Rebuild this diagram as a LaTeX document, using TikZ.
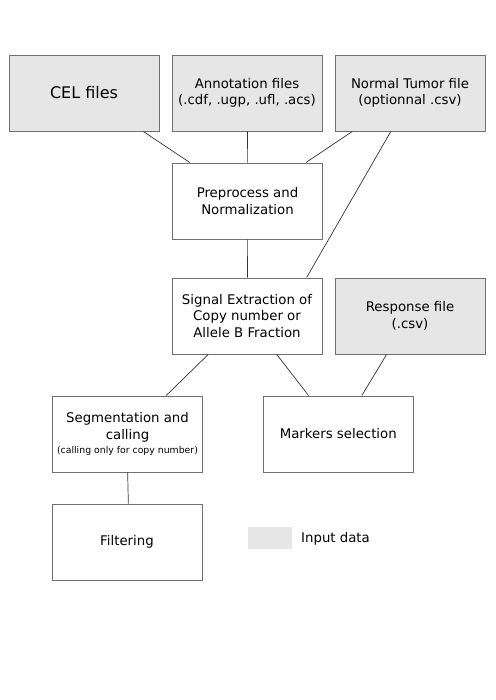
\documentclass[tikz,border=0pt]{standalone}
\usepackage{fontspec}
\setmainfont{DejaVu Sans}
\usetikzlibrary{calc}
\definecolor{inputgray}{HTML}{E6E6E6}
\definecolor{boxline}{HTML}{707070}
\definecolor{linkline}{HTML}{333333}
\tikzset{
  box/.style={draw=boxline, line width=0.9pt, minimum width=150pt, minimum height=76pt,
    inner sep=0pt, align=center, font=\fontsize{13.3}{16.5}\selectfont},
  inputbox/.style={box, fill=inputgray},
  link/.style={draw=linkline, line width=0.7pt},
}
% point at fraction #2 along the bottom / top edge of node #1
\newcommand{\edgebot}[2]{($(#1.south west)!#2!(#1.south east)$)}
\newcommand{\edgetop}[2]{($(#1.north west)!#2!(#1.north east)$)}
\begin{document}
\begin{tikzpicture}[x=1pt, y=-1pt]
  \useasboundingbox[fill=white] (0,0) rectangle (495,700);

  % input files
  \node[inputbox, font=\fontsize{16}{19}\selectfont] (cel) at (84,93) {CEL files};
  \node[inputbox] (annot) at (247,93) {Annotation files\\(.cdf, .ugp, .ufl, .acs)};
  \node[inputbox] (normal) at (410,93) {Normal Tumor file\\(optionnal .csv)};

  % processing steps
  \node[box] (prep) at (247.5,201) {Preprocess and\\Normalization};
  \node[box] (signal) at (247,316) {Signal Extraction of\\Copy number or\\Allele B Fraction};
  \node[inputbox] (resp) at (410,316) {Response file\\(.csv)};
  \node[box] (seg) at (127.5,434) {Segmentation and\\calling\\[-2pt]{\fontsize{9.33}{11}\selectfont(calling only for copy number)}};
  \node[box] (mark) at (338.3,434) {Markers selection};
  \node[box] (filt) at (127,542) {Filtering};

  % legend
  \node[fill=inputgray, minimum width=44.6pt, minimum height=22pt, inner sep=0pt] (swatch) at (270,538) {};
  \node[anchor=west, inner sep=0pt, font=\fontsize{13.3}{16}\selectfont] (legend) at (301,538.5) {Input data};

  % connectors
  \draw[link] \edgebot{cel}{0.893} -- \edgetop{prep}{0.118};
  \draw[link] \edgebot{annot}{0.503} -- \edgetop{prep}{0.499};
  \draw[link] \edgebot{normal}{0.118} -- \edgetop{prep}{0.887};
  \draw[link] \edgebot{normal}{0.373} -- \edgetop{signal}{0.895};
  \draw[link] \edgebot{prep}{0.499} -- \edgetop{signal}{0.503};
  \draw[link] \edgebot{signal}{0.243} -- \edgetop{seg}{0.756};
  \draw[link] \edgebot{signal}{0.697} -- \edgetop{mark}{0.303};
  \draw[link] \edgebot{resp}{0.345} -- \edgetop{mark}{0.656};
  \draw[link] \edgebot{seg}{0.501} -- \edgetop{filt}{0.509};
\end{tikzpicture}
\end{document}
